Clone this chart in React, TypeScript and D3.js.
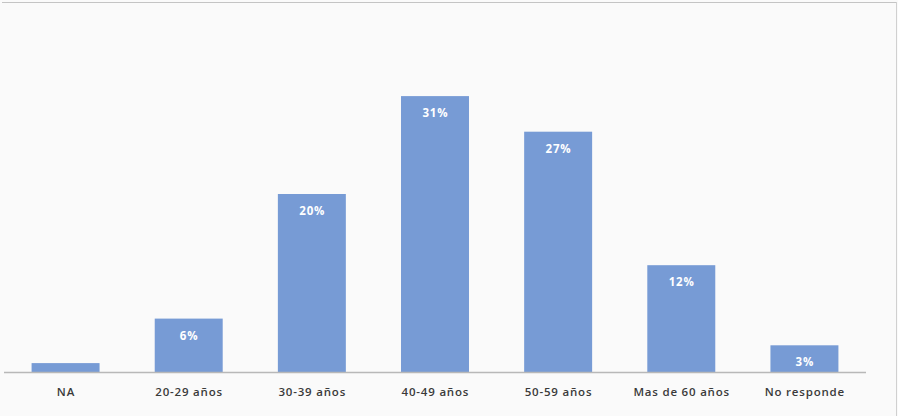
import React from "react";
import * as d3 from "d3";

const categories = ["NA", "20-29 años", "30-39 años", "40-49 años", "50-59 años", "Mas de 60 años", "No responde"];
const values = [1, 6, 20, 31, 27, 12, 3];
const labels = ["", "6%", "20%", "31%", "27%", "12%", "3%"];

const W = 898;
const H = 416;
const left = 4;
const right = 866;
const axisY = 372;

export default function App() {
  const x = d3.scaleBand<string>().domain(categories).range([left, right]).paddingInner(0.448).paddingOuter(0.224);
  const y = d3.scaleLinear().domain([0, 35]).range([axisY, axisY - 35 * 8.9]);
  const font = "'Open Sans', 'DejaVu Sans', sans-serif";
  return (
    <svg width={W} height={H} style={{ position: "absolute", left: 0, top: 0, background: "#fafafa" }}>
      <rect x={0} y={0} width={W} height={H} fill="#fafafa" />
      <line x1={2} x2={897} y1={2.5} y2={2.5} stroke="#c4c4c4" strokeWidth={1} />
      <line x1={896.5} x2={896.5} y1={2} y2={H} stroke="#d0d0d0" strokeWidth={1} />
      {categories.map((c, i) => (
        <rect key={c} x={x(c)} y={y(values[i])} width={x.bandwidth()} height={axisY - y(values[i])} fill="#779bd5" />
      ))}
      <line x1={left} x2={right} y1={axisY + 0.5} y2={axisY + 0.5} stroke="#b8b8b8" strokeWidth={1.5} />
      {categories.map((c, i) =>
        labels[i] ? (
          <text key={"l" + c} x={(x(c) as number) + x.bandwidth() / 2 + 0.4} y={y(values[i]) + 21} textAnchor="middle" fill="#ffffff" fontFamily={font} fontSize={11.5} fontWeight="bold" letterSpacing={0.8}>
            {labels[i]}
          </text>
        ) : null
      )}
      {categories.map((c) => (
        <text key={"c" + c} x={(x(c) as number) + x.bandwidth() / 2 + 0.4} y={396} textAnchor="middle" fill="#3a3a3a" fontFamily={font} fontSize={11.5} fontWeight={600} letterSpacing={0.8}>
          {c}
        </text>
      ))}
    </svg>
  );
}
